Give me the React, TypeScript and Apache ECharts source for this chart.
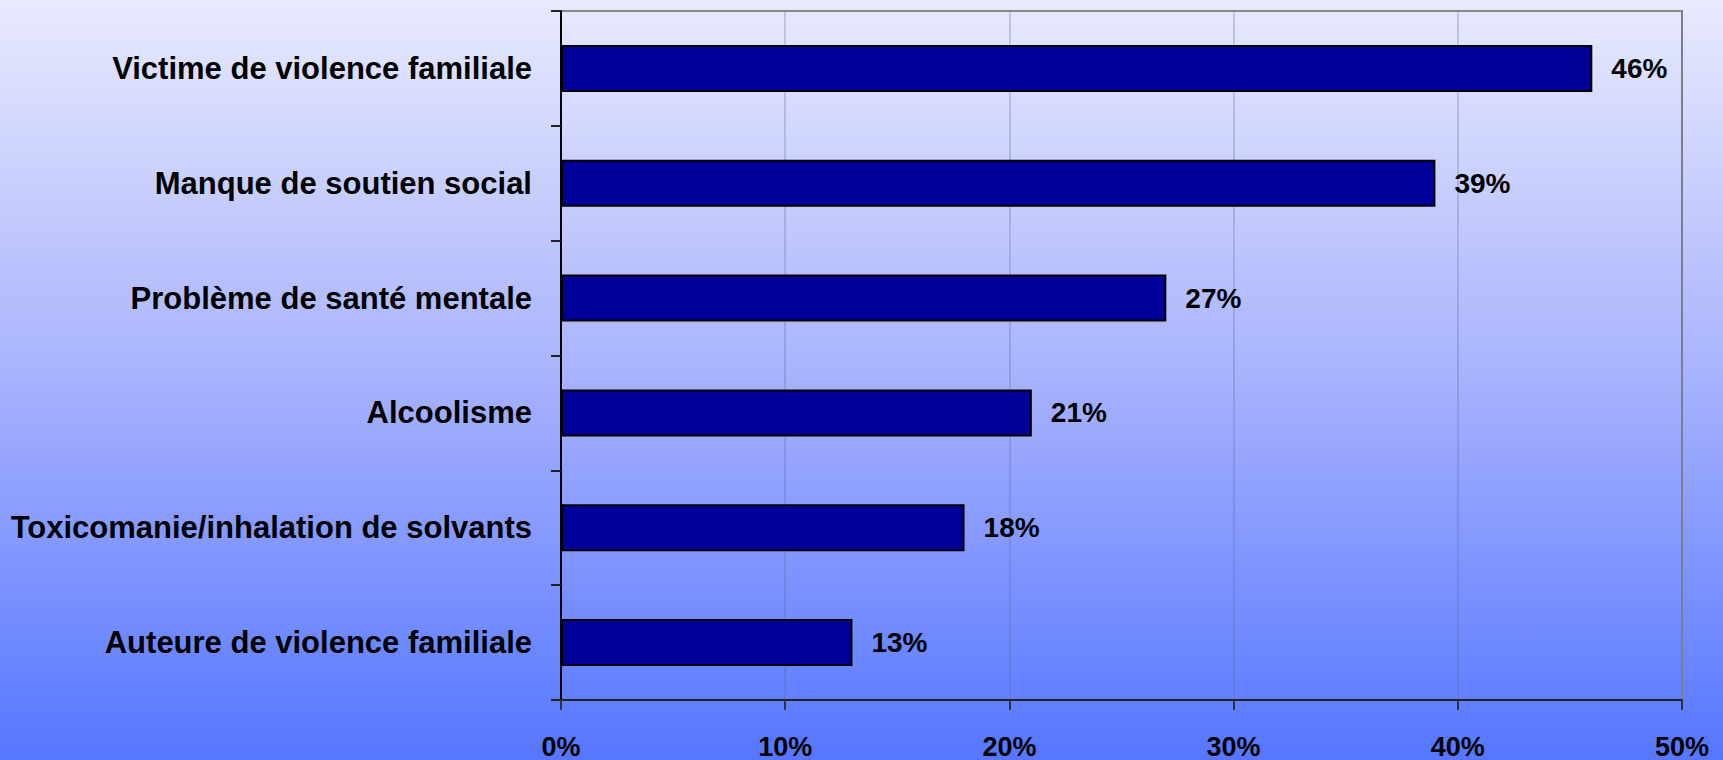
import React, { useEffect, useRef } from "react";
import * as echarts from "echarts";

const categories = [
  "Victime de violence familiale",
  "Manque de soutien social",
  "Problème de santé mentale",
  "Alcoolisme",
  "Toxicomanie/inhalation de solvants",
  "Auteure de violence familiale",
];
const values = [46, 39, 27, 21, 18, 13];
const xTicks = [0, 10, 20, 30, 40, 50];

export default function App() {
  const ref = useRef<HTMLDivElement>(null);
  useEffect(() => {
    if (!ref.current) return;
    const chart = echarts.init(ref.current, undefined, { renderer: "svg" });
    const font = "'Liberation Sans', Arial, sans-serif";
    chart.setOption({
      animation: false,
      backgroundColor: {
        type: "linear",
        x: 0,
        y: 0,
        x2: 0,
        y2: 1,
        colorStops: [
          { offset: 0, color: "#e8eafd" },
          { offset: 0.5, color: "#a7b2fd" },
          { offset: 1, color: "#5576ff" },
        ],
      },
      grid: {
        left: 561,
        right: 41,
        top: 11,
        bottom: 60,
        show: true,
        borderColor: "#888888",
        borderWidth: 2,
        backgroundColor: "transparent",
      },
      xAxis: {
        type: "value",
        min: xTicks[0],
        max: xTicks[xTicks.length - 1],
        interval: 10,
        axisLine: { show: true, lineStyle: { color: "#222", width: 2 } },
        axisTick: { show: true, length: 10, lineStyle: { color: "#333", width: 2 } },
        splitLine: { show: true, lineStyle: { color: "rgba(90,100,150,0.35)", width: 1.5 } },
        axisLabel: {
          formatter: (v: number) => v + "%",
          color: "#000",
          fontFamily: font,
          fontWeight: "bold",
          fontSize: 27,
          margin: 33,
        },
      },
      yAxis: {
        type: "category",
        data: categories,
        inverse: true,
        axisLine: { show: true, lineStyle: { color: "#000", width: 2 } },
        axisTick: { show: true, length: 10, lineStyle: { color: "#222", width: 2 } },
        splitLine: { show: false },
        axisLabel: {
          color: "#000",
          fontFamily: font,
          fontWeight: "bold",
          fontSize: 31,
          margin: 29,
        },
      },
      series: [
        {
          type: "bar",
          data: values,
          barCategoryGap: "59%",
          itemStyle: { color: "#000099", borderColor: "#000", borderWidth: 2 },
          label: {
            show: true,
            position: "right",
            distance: 19,
            formatter: (p: any) => p.value + "%",
            color: "#000",
            fontFamily: font,
            fontWeight: "bold",
            fontSize: 28,
          },
        },
      ],
    });
    return () => chart.dispose();
  }, []);
  return (
    <div
      ref={ref}
      style={{ position: "absolute", left: 0, top: 0, width: 1723, height: 760 }}
    />
  );
}
